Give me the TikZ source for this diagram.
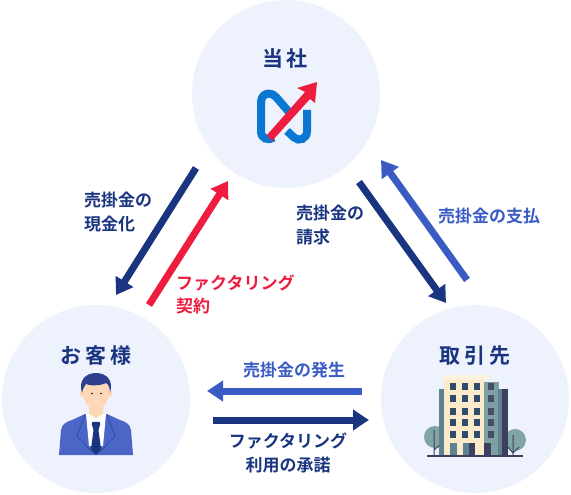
\documentclass[tikz,border=0pt]{standalone}
\usepackage{fontspec}
\usetikzlibrary{arrows.meta}
\setmainfont{Noto Sans CJK JP Bold}
\definecolor{bgc}{HTML}{EEF2FC}
\definecolor{navy}{HTML}{1A3580}
\definecolor{mid}{HTML}{3A5BC4}
\definecolor{redc}{HTML}{EE1C3E}
\definecolor{logob}{HTML}{0A78D2}
\definecolor{suit}{HTML}{4A67C8}
\definecolor{hair}{HTML}{2F3F8F}
\definecolor{skin}{HTML}{FDD8B8}
\definecolor{cream}{HTML}{FBEBCB}
\definecolor{win}{HTML}{2F4A6B}
\definecolor{sideA}{HTML}{7F9EA4}
\definecolor{sideB}{HTML}{3C3F5E}
\definecolor{sideC}{HTML}{5F8292}
\definecolor{treec}{HTML}{7FA5A6}
\tikzset{
  party/.style={circle,fill=bgc,minimum size=188pt,inner sep=0pt},
  flow/.style={line width=7pt,-{Triangle[width=20pt,length=16pt]}},
  title/.style={font=\fontsize{21}{22}\selectfont,text=navy,inner sep=0pt},
  lab/.style={font=\fontsize{17}{23.5}\selectfont,inner sep=0pt,align=left},
}
\begin{document}
\begin{tikzpicture}[x=1pt,y=-1pt]
\useasboundingbox (0,0) rectangle (571,495);
\node[party] (top) at (286,94) {};
\node[party] (left) at (96,399) {};
\node[party] (right) at (475,399) {};
\node[title] (ttop) at (285,59) {当\hspace{4pt}社};
\node[title] (tleft) at (96,356) {お\hspace{4pt}客\hspace{4pt}様};
\node[title] (tright) at (475,356) {取\hspace{4pt}引\hspace{4pt}先};
% logo
\draw[logob,line width=8pt] (274,137.5) .. controls (268,141) and (261,139) .. (261,131) -- (261,103) .. controls (261,93) and (270,91) .. (276,97) -- (289,112);
\draw[logob,line width=8pt] (287,131) -- (294,137.5) .. controls (299,142) and (307,139) .. (307,131) -- (307,110);
\fill[redc] (272,141) -- (267,135) -- (305,92) -- (297,88) -- (317,82) -- (315,103) -- (310,99) -- cycle;
% man
\fill[suit] (59,455) -- (61,430) .. controls (62,424) and (66,422) .. (72,420) -- (85,414) -- (107,414) -- (120,420) .. controls (126,422) and (130,424) .. (131,430) -- (133,455) -- cycle;
\fill[white] (86,414) -- (106,414) -- (103,446) -- (89,446) -- cycle;
\draw[hair!85!suit,line width=0.7pt] (85,415) -- (77,436) -- (94,454) (107,415) -- (115,436) -- (98,454);
\fill[skin] (89,403) -- (103,403) -- (103,414) -- (96,418) -- (89,414) -- cycle;
\fill[skin] (83,387) .. controls (83,378) and (109,378) .. (109,387) .. controls (110,401) and (104,409) .. (96,409) .. controls (88,409) and (82,401) .. (83,387) -- cycle;
\fill[skin] (83,394) circle (3.2) (109,394) circle (3.2);
\fill[hair] (82,393) .. controls (78,380) and (86,373) .. (96,373) .. controls (106,373) and (114,380) .. (110,393) .. controls (110,387) and (108,384) .. (106,383) .. controls (100,386) and (90,386) .. (86,384) .. controls (84,386) and (83,389) .. (82,393) -- cycle;
\fill[navy] (92,425) .. controls (91,421) and (93,422) .. (96,422) .. controls (99,422) and (101,421) .. (100,425) -- (98.5,430) -- (101,449) -- (96,455) -- (91,449) -- (93.5,430) -- cycle;
\fill[black!70!navy] (92,393.5) circle (0.9) (101,393.5) circle (0.9);
% building
\fill[treec] (435,437) circle (11);
\fill[treec] (515,440) circle (11);
\draw[sideB,line width=1pt] (434,430) -- (434,456) (434,450) -- (441,444) (513,435) -- (513,456) (508,447) -- (513,453) -- (519,447);
\fill[sideC] (439,389) rectangle (445,456);
\fill[sideA] (482,382) rectangle (499,456);
\fill[sideB] (498,389) rectangle (508,456);
\fill[sideC] (498,389) rectangle (502,456);
\fill[cream] (444,380) rectangle (484,456);
\fill[cream!70!white] (442,375) rectangle (489,380);
\foreach \cy in {386,398,411,422,434}{
  \foreach \cx in {453,465,477}{
    \fill[win] (\cx,\cy) ++(-3,-3.5) rectangle ++(6,7);
  }
  \fill[sideB!85!sideA] (491,\cy) ++(-3,-3.5) rectangle ++(6,7);
}
\fill[sideC] (450,443) rectangle (457,456);
\fill[sideC] (463,443) rectangle (469,456);
\fill[sideB] (469,443) rectangle (475,456);
\fill[sideB] (484,443) rectangle (491,456);
\draw[sideB,line width=1.2pt] (427,456) -- (523,456);
% arrows
\coordinate (a1s) at (196,168);
\coordinate (a1e) at (116,295);
\coordinate (a2s) at (149,305);
\coordinate (a2e) at (228,181);
\coordinate (a3s) at (359,182);
\coordinate (a3e) at (446,303);
\coordinate (a4s) at (467,280);
\coordinate (a4e) at (381,160);
\coordinate (a5s) at (362,391);
\coordinate (a5e) at (207,391);
\coordinate (a6s) at (213,420);
\coordinate (a6e) at (369,420);
\draw[flow,navy] (a1s) -- (a1e);
\draw[flow,redc] (a2s) -- (a2e);
\draw[flow,navy] (a3s) -- (a3e);
\draw[flow,mid] (a4s) -- (a4e);
\draw[flow,mid] (a5s) -- (a5e);
\draw[flow,navy] (a6s) -- (a6e);
% labels
\node[lab,text=navy,anchor=north west] (l1) at (84,192) {売掛金の\\現金化};
\node[lab,text=redc,anchor=north west] (l2) at (176,274.5) {ファクタリング\\契約};
\node[lab,text=navy,anchor=north west] (l3) at (296,205) {売掛金の\\請求};
\node[lab,text=mid,anchor=north west] (l4) at (438,207.5) {売掛金の支払};
\node[lab,text=mid] (l5) at (294,370.5) {売掛金の発生};
\node[lab,text=navy,align=center] (l6) at (288,453) {ファクタリング\\利用の承諾};
\end{tikzpicture}
\end{document}
